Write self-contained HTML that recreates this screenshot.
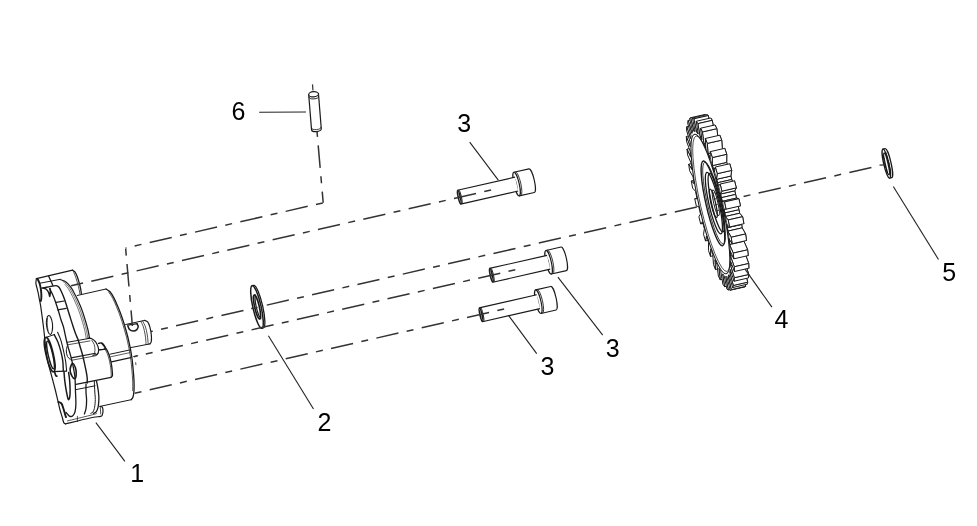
<!DOCTYPE html><html><head><meta charset="utf-8"><style>html,body{margin:0;padding:0;background:#fff}svg{display:block}text{-webkit-font-smoothing:antialiased}svg text{will-change:transform}</style></head><body><svg width="977" height="526" viewBox="0 0 977 526"><rect width="977" height="526" fill="#fff"/><path d="M151.00 331.52L700.00 206.35" stroke="#333" stroke-width="1.5" fill="none" stroke-dasharray="22.6 8.45 7.0 8.45" stroke-dashoffset="20.76"/><path d="M738.00 197.69L873.00 167.14" stroke="#333" stroke-width="1.5" fill="none" stroke-dasharray="22.6 8.45 7.0 8.45" stroke-dashoffset="25.32"/><g><path d="M77.20 295.50L106.00 289.00" stroke="#1a1a1a" stroke-width="1.0" fill="none" stroke-linecap="round" stroke-linejoin="round"/><path d="M106.00 289.00C106.67 289.47 108.67 290.28 110.00 291.80C111.33 293.32 112.73 295.73 114.00 298.10C115.27 300.47 116.50 303.43 117.60 306.00C118.70 308.57 119.67 311.00 120.60 313.50C121.53 316.00 122.37 318.42 123.20 321.00C124.03 323.58 124.83 326.33 125.60 329.00C126.37 331.67 127.13 334.33 127.80 337.00C128.47 339.67 129.07 342.50 129.60 345.00C130.13 347.50 130.57 349.50 131.00 352.00C131.43 354.50 131.83 357.00 132.20 360.00C132.57 363.00 132.90 366.50 133.20 370.00C133.50 373.50 133.87 377.58 134.00 381.00C134.13 384.42 134.17 387.83 134.00 390.50C133.83 393.17 133.47 395.47 133.00 397.00C132.53 398.53 131.50 399.25 131.20 399.70" stroke="#1a1a1a" stroke-width="1.3" fill="none" stroke-linecap="round" stroke-linejoin="round"/><path d="M108.70 292.00C109.37 293.05 111.43 295.93 112.70 298.30C113.97 300.67 115.20 303.63 116.30 306.20C117.40 308.77 118.37 311.20 119.30 313.70C120.23 316.20 121.07 318.62 121.90 321.20C122.73 323.78 123.53 326.53 124.30 329.20C125.07 331.87 125.83 334.53 126.50 337.20C127.17 339.87 127.77 342.70 128.30 345.20C128.83 347.70 129.27 349.70 129.70 352.20C130.13 354.70 130.53 357.20 130.90 360.20C131.27 363.20 131.60 366.70 131.90 370.20C132.20 373.70 132.57 377.78 132.70 381.20C132.83 384.62 132.70 389.12 132.70 390.70" stroke="#1a1a1a" stroke-width="0.75" fill="none" stroke-linecap="round" stroke-linejoin="round"/><path d="M131.20 399.70L100.00 406.40" stroke="#1a1a1a" stroke-width="1.0" fill="none" stroke-linecap="round" stroke-linejoin="round"/><path d="M110.00 354.20L129.60 350.00" stroke="#1a1a1a" stroke-width="1.0" fill="none" stroke-linecap="round" stroke-linejoin="round"/><path d="M110.60 356.80L130.00 352.60" stroke="#1a1a1a" stroke-width="0.7" fill="none" stroke-linecap="round" stroke-linejoin="round"/><path d="M111.40 361.80L130.60 357.60" stroke="#1a1a1a" stroke-width="1.3" fill="none" stroke-linecap="round" stroke-linejoin="round"/><path d="M133.30 356.60L137.80 355.70" stroke="#1a1a1a" stroke-width="0.75" fill="none" stroke-linecap="round" stroke-linejoin="round"/><path d="M135.70 362.60L135.90 364.80" stroke="#1a1a1a" stroke-width="0.75" fill="none" stroke-linecap="round" stroke-linejoin="round"/><path d="M125.60 324.50L144.60 320.40" stroke="#1a1a1a" stroke-width="1.0" fill="none" stroke-linecap="round" stroke-linejoin="round"/><path d="M144.60 320.40C145.12 320.65 146.82 320.77 147.70 321.90C148.58 323.03 149.30 325.05 149.90 327.20C150.50 329.35 151.07 332.42 151.30 334.80C151.53 337.18 151.53 339.98 151.30 341.50C151.07 343.02 150.13 343.50 149.90 343.90" stroke="#1a1a1a" stroke-width="1.2" fill="none" stroke-linecap="round" stroke-linejoin="round"/><path d="M140.80 321.40C141.23 322.33 142.70 324.90 143.40 327.00C144.10 329.10 144.60 331.83 145.00 334.00C145.40 336.17 145.63 338.23 145.80 340.00C145.97 341.77 145.97 343.83 146.00 344.60" stroke="#1a1a1a" stroke-width="0.75" fill="none" stroke-linecap="round" stroke-linejoin="round"/><path d="M142.60 321.00C143.08 322.00 144.75 324.83 145.50 327.00C146.25 329.17 146.70 331.83 147.10 334.00C147.50 336.17 147.72 338.28 147.90 340.00C148.08 341.72 148.15 343.58 148.20 344.30" stroke="#1a1a1a" stroke-width="0.75" fill="none" stroke-linecap="round" stroke-linejoin="round"/><path d="M149.90 343.90L130.20 347.70" stroke="#1a1a1a" stroke-width="1.0" fill="none" stroke-linecap="round" stroke-linejoin="round"/><path d="M127.90 326.00C128.17 326.58 128.62 328.67 129.50 329.50C130.38 330.33 131.98 330.98 133.20 331.00C134.42 331.02 135.97 330.40 136.80 329.60C137.63 328.80 138.17 327.13 138.20 326.20C138.23 325.27 137.20 324.37 137.00 324.00" stroke="#1a1a1a" stroke-width="1.5" fill="none" stroke-linecap="round" stroke-linejoin="round"/><path d="M127.60 325.20L137.40 323.60" stroke="#1a1a1a" stroke-width="1.2" fill="none" stroke-linecap="round" stroke-linejoin="round"/><path d="M36.40 278.60C36.32 279.37 35.80 281.62 35.90 283.20C36.00 284.78 36.60 286.38 37.00 288.10C37.40 289.82 37.92 291.68 38.30 293.50C38.68 295.32 38.92 296.98 39.30 299.00C39.68 301.02 40.12 302.60 40.60 305.60C41.08 308.60 41.70 313.27 42.20 317.00C42.70 320.73 43.18 324.50 43.60 328.00C44.02 331.50 44.33 334.50 44.70 338.00C45.07 341.50 45.32 345.27 45.80 349.00C46.28 352.73 46.90 356.90 47.60 360.40C48.30 363.90 49.15 366.73 50.00 370.00C50.85 373.27 51.82 376.67 52.70 380.00C53.58 383.33 54.48 386.73 55.30 390.00C56.12 393.27 56.83 396.35 57.60 399.60C58.37 402.85 59.13 406.58 59.90 409.50C60.67 412.42 61.57 414.95 62.20 417.10C62.83 419.25 63.17 421.27 63.70 422.40C64.23 423.53 65.12 423.65 65.40 423.90" stroke="#1a1a1a" stroke-width="1.2" fill="none" stroke-linecap="round" stroke-linejoin="round"/><path d="M65.40 423.90C69.50 422.92 84.12 419.27 90.00 418.00C95.88 416.73 98.65 416.83 100.70 416.30C102.75 415.77 101.92 415.68 102.30 414.80C102.68 413.92 103.00 412.27 103.00 411.00C103.00 409.73 102.80 407.97 102.30 407.20C101.80 406.43 100.38 406.53 100.00 406.40" stroke="#1a1a1a" stroke-width="1.2" fill="none" stroke-linecap="round" stroke-linejoin="round"/><path d="M67.50 420.90C71.25 419.98 85.17 416.62 90.00 415.40C94.83 414.18 95.42 413.90 96.50 413.60" stroke="#1a1a1a" stroke-width="0.75" fill="none" stroke-linecap="round" stroke-linejoin="round"/><path d="M100.30 406.80L100.70 414.00" stroke="#1a1a1a" stroke-width="0.75" fill="none" stroke-linecap="round" stroke-linejoin="round"/><path d="M36.40 278.60L72.60 270.20" stroke="#1a1a1a" stroke-width="1.2" fill="none" stroke-linecap="round" stroke-linejoin="round"/><path d="M72.60 270.20C72.98 270.48 74.13 270.87 74.90 271.90C75.67 272.93 76.50 274.63 77.20 276.40C77.90 278.17 78.53 280.47 79.10 282.50C79.67 284.53 80.22 286.70 80.60 288.60C80.98 290.50 81.27 293.02 81.40 293.90" stroke="#1a1a1a" stroke-width="1.3" fill="none" stroke-linecap="round" stroke-linejoin="round"/><path d="M73.40 271.60C73.78 272.53 75.00 275.25 75.70 277.20C76.40 279.15 77.03 281.27 77.60 283.30C78.17 285.33 78.72 287.63 79.10 289.40C79.48 291.17 79.77 293.15 79.90 293.90" stroke="#1a1a1a" stroke-width="0.75" fill="none" stroke-linecap="round" stroke-linejoin="round"/><path d="M40.10 283.20L60.20 279.30" stroke="#1a1a1a" stroke-width="1.0" fill="none" stroke-linecap="round" stroke-linejoin="round"/><path d="M48.60 275.90L52.90 285.60" stroke="#1a1a1a" stroke-width="1.3" fill="none" stroke-linecap="round" stroke-linejoin="round"/><path d="M37.60 279.00C37.92 279.70 38.98 281.68 39.50 283.20C40.02 284.72 40.40 286.38 40.70 288.10C41.00 289.82 41.20 291.77 41.30 293.50C41.40 295.23 41.38 297.25 41.30 298.50C41.22 299.75 40.88 300.58 40.80 301.00" stroke="#1a1a1a" stroke-width="1.9" fill="none" stroke-linecap="round" stroke-linejoin="round"/><path d="M43.10 288.10C43.58 288.25 45.08 288.27 46.00 289.00C46.92 289.73 47.97 291.25 48.60 292.50C49.23 293.75 49.52 296.58 49.80 296.50C50.08 296.42 50.25 293.30 50.30 292.00C50.35 290.70 50.13 289.25 50.10 288.70" stroke="#1a1a1a" stroke-width="1.5" fill="none" stroke-linecap="round" stroke-linejoin="round"/><path d="M58.40 401.90C58.90 402.15 60.52 402.13 61.40 403.40C62.28 404.67 63.07 407.60 63.70 409.50C64.33 411.40 64.82 413.53 65.20 414.80C65.58 416.07 65.87 416.72 66.00 417.10" stroke="#1a1a1a" stroke-width="1.9" fill="none" stroke-linecap="round" stroke-linejoin="round"/><path d="M41.90 288.10C43.25 287.85 47.65 287.02 50.00 286.60C52.35 286.18 54.50 285.50 56.00 285.60C57.50 285.70 58.03 286.05 59.00 287.20C59.97 288.35 60.87 290.45 61.80 292.50C62.73 294.55 63.73 297.08 64.60 299.50C65.47 301.92 66.13 304.25 67.00 307.00C67.87 309.75 68.83 312.92 69.80 316.00C70.77 319.08 71.83 322.53 72.80 325.50C73.77 328.47 74.70 331.38 75.60 333.80C76.50 336.22 77.42 337.77 78.20 340.00C78.98 342.23 79.58 344.73 80.30 347.20C81.02 349.67 81.78 352.02 82.50 354.80C83.22 357.58 83.97 361.03 84.60 363.90C85.23 366.77 85.87 369.65 86.30 372.00C86.73 374.35 87.05 376.17 87.20 378.00C87.35 379.83 87.20 382.17 87.20 383.00" stroke="#1a1a1a" stroke-width="1.4" fill="none" stroke-linecap="round" stroke-linejoin="round"/><path d="M86.00 384.00C86.00 385.43 85.90 389.93 86.00 392.60C86.10 395.27 86.60 397.32 86.60 400.00C86.60 402.68 86.37 406.37 86.00 408.70C85.63 411.03 84.67 413.12 84.40 414.00" stroke="#1a1a1a" stroke-width="1.3" fill="none" stroke-linecap="round" stroke-linejoin="round"/><path d="M59.90 279.50C60.65 279.75 63.00 280.23 64.40 281.00C65.80 281.77 67.15 282.95 68.30 284.10C69.45 285.25 70.30 286.38 71.30 287.90C72.30 289.42 73.28 291.30 74.30 293.20C75.32 295.10 76.38 297.15 77.40 299.30C78.42 301.45 79.47 303.82 80.40 306.10C81.33 308.38 82.10 310.35 83.00 313.00C83.90 315.65 84.97 319.17 85.80 322.00C86.63 324.83 87.38 327.33 88.00 330.00C88.62 332.67 89.25 336.67 89.50 338.00" stroke="#1a1a1a" stroke-width="1.2" fill="none" stroke-linecap="round" stroke-linejoin="round"/><path d="M62.80 281.30C63.45 281.82 65.55 283.25 66.70 284.40C67.85 285.55 68.70 286.68 69.70 288.20C70.70 289.72 71.68 291.60 72.70 293.50C73.72 295.40 74.78 297.45 75.80 299.60C76.82 301.75 77.87 304.12 78.80 306.40C79.73 308.68 80.50 310.65 81.40 313.30C82.30 315.95 83.37 319.47 84.20 322.30C85.03 325.13 85.78 327.63 86.40 330.30C87.02 332.97 87.65 336.97 87.90 338.30" stroke="#1a1a1a" stroke-width="0.6" fill="none" stroke-linecap="round" stroke-linejoin="round"/><path d="M65.10 284.60C65.60 285.23 67.10 286.88 68.10 288.40C69.10 289.92 70.08 291.80 71.10 293.70C72.12 295.60 73.18 297.65 74.20 299.80C75.22 301.95 76.27 304.32 77.20 306.60C78.13 308.88 78.90 310.85 79.80 313.50C80.70 316.15 81.77 319.67 82.60 322.50C83.43 325.33 84.18 327.83 84.80 330.50C85.42 333.17 86.05 337.17 86.30 338.50" stroke="#1a1a1a" stroke-width="0.6" fill="none" stroke-linecap="round" stroke-linejoin="round"/><path d="M94.30 381.20C94.38 383.00 94.63 388.93 94.80 392.00C94.97 395.07 95.33 397.07 95.30 399.60C95.27 402.13 94.97 405.17 94.60 407.20C94.23 409.23 93.73 410.78 93.10 411.80C92.47 412.82 91.18 413.05 90.80 413.30" stroke="#1a1a1a" stroke-width="1.0" fill="none" stroke-linecap="round" stroke-linejoin="round"/><path d="M96.50 381.20C96.75 382.47 97.62 386.33 98.00 388.80C98.38 391.27 98.67 393.97 98.80 396.00C98.93 398.03 98.92 399.13 98.80 401.00C98.68 402.87 98.53 405.40 98.10 407.20C97.67 409.00 96.97 410.77 96.20 411.80C95.43 412.83 93.95 413.13 93.50 413.40" stroke="#1a1a1a" stroke-width="1.3" fill="none" stroke-linecap="round" stroke-linejoin="round"/><path d="M49.60 288.50C50.13 289.58 51.90 293.00 52.80 295.00C53.70 297.00 54.30 298.58 55.00 300.50C55.70 302.42 56.35 304.50 57.00 306.50C57.65 308.50 58.25 310.33 58.90 312.50C59.55 314.67 60.18 317.25 60.90 319.50C61.62 321.75 62.62 324.08 63.20 326.00C63.78 327.92 63.93 328.92 64.40 331.00C64.87 333.08 65.38 335.80 66.00 338.50C66.62 341.20 67.37 344.48 68.10 347.20C68.83 349.92 69.65 352.02 70.40 354.80C71.15 357.58 71.97 361.03 72.60 363.90C73.23 366.77 73.80 369.65 74.20 372.00C74.60 374.35 74.82 375.83 75.00 378.00C75.18 380.17 75.22 382.67 75.30 385.00C75.38 387.33 75.40 388.93 75.50 392.00C75.60 395.07 75.97 400.15 75.90 403.40C75.83 406.65 75.62 409.43 75.10 411.50C74.58 413.57 73.68 415.00 72.80 415.80C71.92 416.60 70.68 416.58 69.80 416.30C68.92 416.02 68.13 414.73 67.50 414.10C66.87 413.47 66.25 412.77 66.00 412.50" stroke="#1a1a1a" stroke-width="1.3" fill="none" stroke-linecap="round" stroke-linejoin="round"/><path d="M56.20 302.30L64.20 301.00" stroke="#1a1a1a" stroke-width="1.2" fill="none" stroke-linecap="round" stroke-linejoin="round"/><path d="M57.80 309.90L66.20 308.40" stroke="#1a1a1a" stroke-width="1.2" fill="none" stroke-linecap="round" stroke-linejoin="round"/><path d="M77.40 416.30L77.40 421.70" stroke="#1a1a1a" stroke-width="0.75" fill="none" stroke-linecap="round" stroke-linejoin="round"/><path d="M48.60 315.50C49.27 315.33 50.15 316.08 50.80 317.50C51.45 318.92 52.27 321.75 52.50 324.00C52.73 326.25 52.53 329.25 52.20 331.00C51.87 332.75 51.17 334.33 50.50 334.50C49.83 334.67 48.87 333.58 48.20 332.00C47.53 330.42 46.73 327.25 46.50 325.00C46.27 322.75 46.45 320.08 46.80 318.50C47.15 316.92 47.93 315.67 48.60 315.50Z" stroke="#1a1a1a" stroke-width="1.1" fill="none" stroke-linecap="round" stroke-linejoin="round"/><path d="M47.60 318.00C47.53 319.00 47.13 321.92 47.20 324.00C47.27 326.08 47.87 329.42 48.00 330.50" stroke="#1a1a1a" stroke-width="0.75" fill="none" stroke-linecap="round" stroke-linejoin="round"/><ellipse transform="translate(49.7 354.6) rotate(-12.84)" rx="3.6" ry="17.6" fill="none" stroke="#1a1a1a" stroke-width="1.6"/><ellipse transform="translate(50.5 355.0) rotate(-12.84)" rx="2.3" ry="14.2" fill="none" stroke="#1a1a1a" stroke-width="1.4"/><path d="M45.70 337.50L54.20 334.60" stroke="#1a1a1a" stroke-width="1.0" fill="none" stroke-linecap="round" stroke-linejoin="round"/><path d="M54.20 334.60C54.83 335.87 56.88 339.35 58.00 342.20C59.12 345.05 60.10 348.53 60.90 351.70C61.70 354.87 62.40 358.03 62.80 361.20C63.20 364.37 63.22 369.12 63.30 370.70" stroke="#1a1a1a" stroke-width="1.4" fill="none" stroke-linecap="round" stroke-linejoin="round"/><path d="M57.60 332.30C58.15 333.63 59.88 337.07 60.90 340.30C61.92 343.53 62.92 348.22 63.70 351.70C64.48 355.18 65.12 358.03 65.60 361.20C66.08 364.37 66.43 369.12 66.60 370.70" stroke="#1a1a1a" stroke-width="1.1" fill="none" stroke-linecap="round" stroke-linejoin="round"/><path d="M52.30 371.70L66.60 371.10" stroke="#1a1a1a" stroke-width="1.3" fill="none" stroke-linecap="round" stroke-linejoin="round"/><path d="M54.60 372.00C54.80 372.58 55.40 374.80 55.80 375.50C56.20 376.20 56.80 376.08 57.00 376.20" stroke="#1a1a1a" stroke-width="1.6" fill="none" stroke-linecap="round" stroke-linejoin="round"/><path d="M64.00 371.90C64.13 373.42 64.42 377.83 64.80 381.00C65.18 384.17 65.72 387.83 66.30 390.90C66.88 393.97 67.72 398.45 68.30 399.40C68.88 400.35 69.50 398.17 69.80 396.60C70.10 395.03 70.13 392.77 70.10 390.00C70.07 387.23 69.85 382.92 69.60 380.00C69.35 377.08 68.77 373.75 68.60 372.50" stroke="#1a1a1a" stroke-width="1.5" fill="none" stroke-linecap="round" stroke-linejoin="round"/><path d="M67.30 342.30L90.00 338.30" stroke="#1a1a1a" stroke-width="1.0" fill="none" stroke-linecap="round" stroke-linejoin="round"/><path d="M67.80 344.80L90.00 340.90" stroke="#1a1a1a" stroke-width="0.75" fill="none" stroke-linecap="round" stroke-linejoin="round"/><path d="M88.00 338.00C88.63 338.13 90.53 338.17 91.80 338.80C93.07 339.43 94.58 340.53 95.60 341.80C96.62 343.07 97.40 345.00 97.90 346.40C98.40 347.80 98.60 349.05 98.60 350.20C98.60 351.35 98.40 352.53 97.90 353.30C97.40 354.07 96.42 354.47 95.60 354.80C94.78 355.13 93.43 355.22 93.00 355.30" stroke="#1a1a1a" stroke-width="1.2" fill="none" stroke-linecap="round" stroke-linejoin="round"/><path d="M91.80 340.30C92.20 341.00 93.67 342.88 94.20 344.50C94.73 346.12 95.00 348.38 95.00 350.00C95.00 351.62 94.33 353.50 94.20 354.20" stroke="#1a1a1a" stroke-width="0.75" fill="none" stroke-linecap="round" stroke-linejoin="round"/><path d="M71.10 357.90L95.50 353.30" stroke="#1a1a1a" stroke-width="1.1" fill="none" stroke-linecap="round" stroke-linejoin="round"/><path d="M71.50 360.30L96.50 355.60L98.00 353.50" stroke="#1a1a1a" stroke-width="0.75" fill="none" stroke-linecap="round" stroke-linejoin="round"/><path d="M67.20 346.20C67.05 347.00 66.25 349.28 66.30 351.00C66.35 352.72 66.82 355.07 67.50 356.50C68.18 357.93 69.92 359.08 70.40 359.60" stroke="#1a1a1a" stroke-width="1.0" fill="none" stroke-linecap="round" stroke-linejoin="round"/><path d="M98.60 343.40C99.12 343.33 100.75 342.63 101.70 343.00C102.65 343.37 103.67 344.65 104.30 345.60C104.93 346.55 105.68 348.07 105.50 348.70C105.32 349.33 104.22 349.22 103.20 349.40C102.18 349.58 100.03 349.73 99.40 349.80" stroke="#1a1a1a" stroke-width="1.4" fill="none" stroke-linecap="round" stroke-linejoin="round"/><path d="M72.40 363.50C71.50 363.75 70.22 367.57 70.10 369.60C69.98 371.63 70.93 374.18 71.70 375.70C72.47 377.22 73.95 378.83 74.70 378.70C75.45 378.57 76.07 376.67 76.20 374.90C76.33 373.13 76.13 370.00 75.50 368.10C74.87 366.20 73.30 363.25 72.40 363.50Z" stroke="#1a1a1a" stroke-width="1.6" fill="none" stroke-linecap="round" stroke-linejoin="round"/><path d="M101.70 343.40C102.33 344.15 104.48 346.52 105.50 347.90C106.52 349.28 107.05 350.05 107.80 351.70C108.55 353.35 109.37 355.52 110.00 357.80C110.63 360.08 111.22 363.03 111.60 365.40C111.98 367.77 112.17 370.30 112.30 372.00C112.43 373.70 112.62 374.70 112.40 375.60C112.18 376.50 111.23 377.10 111.00 377.40" stroke="#1a1a1a" stroke-width="1.3" fill="none" stroke-linecap="round" stroke-linejoin="round"/><path d="M104.30 348.20C104.68 348.83 105.85 350.35 106.60 352.00C107.35 353.65 108.17 355.82 108.80 358.10C109.43 360.38 110.02 363.33 110.40 365.70C110.78 368.07 110.97 370.60 111.10 372.30C111.23 374.00 111.18 375.30 111.20 375.90" stroke="#1a1a1a" stroke-width="0.75" fill="none" stroke-linecap="round" stroke-linejoin="round"/><path d="M111.00 377.40L76.00 384.40" stroke="#1a1a1a" stroke-width="1.1" fill="none" stroke-linecap="round" stroke-linejoin="round"/><path d="M76.00 389.60L95.00 385.80" stroke="#1a1a1a" stroke-width="1.0" fill="none" stroke-linecap="round" stroke-linejoin="round"/></g><g transform="translate(257.00 307.00) rotate(-12.84)" fill="#fff" stroke="#1a1a1a" stroke-width="1.3"><path d="M0 -21.8L1.6 -21.8A4.14 21.8 0 0 1 1.6 21.8L0 21.8Z"/><ellipse cx="0" cy="0" rx="4.14" ry="21.8" stroke-width="1.5"/><ellipse cx="0" cy="0" rx="2.36" ry="12.4" stroke-width="1.6"/><path d="M1.6 -12.2A2.36 12.2 0 0 0 1.6 12.2" fill="none" stroke-width="1.2"/></g><path d="M251.3 308.7L257.6 307.3" stroke="#333" stroke-width="1.2"/><g transform="translate(459.05 197.20) rotate(-12.84)" fill="#fff" stroke="#1a1a1a" stroke-width="1.15" stroke-linejoin="round"><path d="M59.0 -12.1L74.5 -12.1A2.66 12.1 0 0 1 74.5 12.1L59.0 12.1Z"/><ellipse cx="59.0" cy="0" rx="2.66" ry="12.1"/><path d="M60.6 -12.1A2.66 12.1 0 0 1 60.6 12.1" fill="none" stroke-width="0.8"/><path d="M57.4 -7.5A1.56 7.5 0 0 1 57.4 7.5" fill="none" stroke-width="0.8"/><path d="M0 -7.1L59.0 -7.1L59.0 7.1L0 7.1Z" stroke="none"/><path d="M0 -7.1L59.0 -7.1M0 7.1L59.0 7.1" fill="none"/><ellipse cx="0.2" cy="0" rx="1.0" ry="6.8999999999999995" stroke-width="1.6"/><path d="M1.3 -7.1A1.1 7.1 0 0 1 1.3 7.1" fill="none" stroke-width="0.9"/></g><g transform="translate(491.10 275.35) rotate(-12.84)" fill="#fff" stroke="#1a1a1a" stroke-width="1.15" stroke-linejoin="round"><path d="M59.0 -12.1L74.5 -12.1A2.66 12.1 0 0 1 74.5 12.1L59.0 12.1Z"/><ellipse cx="59.0" cy="0" rx="2.66" ry="12.1"/><path d="M60.6 -12.1A2.66 12.1 0 0 1 60.6 12.1" fill="none" stroke-width="0.8"/><path d="M57.4 -7.5A1.56 7.5 0 0 1 57.4 7.5" fill="none" stroke-width="0.8"/><path d="M0 -7.1L59.0 -7.1L59.0 7.1L0 7.1Z" stroke="none"/><path d="M0 -7.1L59.0 -7.1M0 7.1L59.0 7.1" fill="none"/><ellipse cx="0.2" cy="0" rx="1.0" ry="6.8999999999999995" stroke-width="1.6"/><path d="M1.3 -7.1A1.1 7.1 0 0 1 1.3 7.1" fill="none" stroke-width="0.9"/></g><g transform="translate(480.80 314.80) rotate(-12.84)" fill="#fff" stroke="#1a1a1a" stroke-width="1.15" stroke-linejoin="round"><path d="M59.0 -12.1L74.5 -12.1A2.66 12.1 0 0 1 74.5 12.1L59.0 12.1Z"/><ellipse cx="59.0" cy="0" rx="2.66" ry="12.1"/><path d="M60.6 -12.1A2.66 12.1 0 0 1 60.6 12.1" fill="none" stroke-width="0.8"/><path d="M57.4 -7.5A1.56 7.5 0 0 1 57.4 7.5" fill="none" stroke-width="0.8"/><path d="M0 -7.1L59.0 -7.1L59.0 7.1L0 7.1Z" stroke="none"/><path d="M0 -7.1L59.0 -7.1M0 7.1L59.0 7.1" fill="none"/><ellipse cx="0.2" cy="0" rx="1.0" ry="6.8999999999999995" stroke-width="1.6"/><path d="M1.3 -7.1A1.1 7.1 0 0 1 1.3 7.1" fill="none" stroke-width="0.9"/></g><g fill="#fff" stroke="#1a1a1a" stroke-width="1.0" stroke-linejoin="round"><path d="M740.73 273.38L741.34 273.36L744.61 286.97L745.69 286.34L742.51 272.67L742.98 272.07L743.41 271.29L747.02 284.28L747.71 282.17L744.17 268.98L744.44 267.64L744.67 266.13L748.45 277.95L748.74 274.44L744.98 262.30L745.05 260.28L745.06 258.12L748.86 268.23L748.72 263.49L744.91 252.93L744.77 250.32L744.57 247.59L748.21 255.57L747.66 249.80L743.97 241.28L743.61 238.20L743.21 235.02L746.54 240.51L745.60 233.96L742.19 227.85L741.64 224.43L741.05 220.95L743.92 223.71L742.63 216.66L739.64 213.24L738.93 209.63L738.19 205.99L740.47 205.90L738.89 198.67L736.46 198.08L735.61 194.43L734.74 190.80L736.33 187.87L734.53 180.77L732.76 183.04L731.81 179.51L730.85 176.05L731.69 170.40L729.74 163.74L728.72 168.76L727.71 165.52L726.70 162.37L726.75 154.25L724.74 148.32L724.50 155.89L723.49 153.07L722.47 150.37L721.73 140.13L719.75 135.20L720.30 144.97L719.32 142.70L718.35 140.57L716.84 128.66L714.98 124.94L716.30 136.49L715.39 134.86L714.50 133.40L712.31 120.35L710.63 117.99L712.67 130.82L711.88 129.90L711.11 129.17L708.31 115.54L706.91 114.65L709.58 128.20L708.93 128.04L708.32 128.06L705.05 114.45L703.97 115.08L707.15 128.75L706.68 129.35L706.25 130.13L702.64 117.14L701.95 119.25L705.49 132.44L705.22 133.78L704.99 135.29L701.21 123.48L700.92 126.98L704.68 139.12L704.61 141.14L704.60 143.30L700.80 133.19L700.94 137.93L704.75 148.49L704.89 151.10L705.09 153.83L701.45 145.85L702.00 151.62L705.69 160.14L706.05 163.22L706.45 166.40L703.12 160.91L704.06 167.46L707.47 173.57L708.02 176.99L708.61 180.47L705.74 177.71L707.03 184.76L710.02 188.18L710.73 191.79L711.47 195.43L709.19 195.52L710.77 202.75L713.20 203.34L714.05 206.99L714.92 210.62L713.33 213.55L715.13 220.65L716.90 218.39L717.85 221.91L718.81 225.37L717.97 231.02L719.92 237.68L720.94 232.66L721.95 235.90L722.96 239.05L722.90 247.17L724.92 253.10L725.16 245.53L726.17 248.35L727.19 251.05L727.93 261.29L729.91 266.22L729.36 256.45L730.34 258.72L731.31 260.85L732.81 272.76L734.68 276.48L733.36 264.93L734.27 266.56L735.15 268.02L737.35 281.07L739.03 283.43L736.98 270.60L737.78 271.52L738.55 272.25L741.34 285.88L742.75 286.77L740.08 273.22Z"/><path d="M697.04 198.72L694.76 198.81L709.19 195.52L711.47 195.43Z"/><path d="M700.70 223.94L702.47 221.68L716.90 218.39L715.13 220.65Z"/><path d="M694.18 183.76L691.31 181.00L705.74 177.71L708.61 180.47Z"/><path d="M705.49 240.97L706.51 235.95L720.94 232.66L719.92 237.68Z"/><path d="M692.02 169.69L688.69 164.20L703.12 160.91L706.45 166.40Z"/><path d="M710.49 256.39L710.73 248.82L725.16 245.53L724.92 253.10Z"/><path d="M690.66 157.12L687.02 149.14L701.45 145.85L705.09 153.83Z"/><path d="M715.48 269.51L714.93 259.74L729.36 256.45L729.91 266.22Z"/><path d="M690.17 146.59L686.37 136.48L700.80 133.19L704.60 143.30Z"/><path d="M720.25 279.77L718.93 268.22L733.36 264.93L734.68 276.48Z"/><path d="M690.56 138.58L686.78 126.76L701.21 123.48L704.99 135.29Z"/><path d="M724.60 286.72L722.55 273.89L736.98 270.60L739.03 283.43Z"/><path d="M691.82 133.42L688.21 120.43L702.64 117.14L706.25 130.13Z"/><path d="M728.32 290.06L725.65 276.51L740.08 273.22L742.75 286.77Z"/><path d="M693.89 131.35L690.62 117.74L705.05 114.45L708.32 128.06Z"/><path d="M694.50 131.33L693.89 131.35L708.32 128.06L708.93 128.04Z"/><path d="M730.18 290.26L731.26 289.63L745.69 286.34L744.61 286.97Z"/><path d="M695.15 131.49L694.50 131.33L708.93 128.04L709.58 128.20Z"/><path d="M731.26 289.63L728.08 275.96L742.51 272.67L745.69 286.34Z"/><path d="M728.08 275.96L728.55 275.36L742.98 272.07L742.51 272.67Z"/><path d="M728.55 275.36L728.98 274.58L743.41 271.29L742.98 272.07Z"/><path d="M693.88 118.83L692.48 117.94L706.91 114.65L708.31 115.54Z"/><path d="M696.68 132.46L693.88 118.83L708.31 115.54L711.11 129.17Z"/><path d="M697.45 133.19L696.68 132.46L711.11 129.17L711.88 129.90Z"/><path d="M698.25 134.11L697.45 133.19L711.88 129.90L712.67 130.82Z"/><path d="M732.59 287.57L733.28 285.46L747.71 282.17L747.02 284.28Z"/><path d="M733.28 285.46L729.74 272.27L744.17 268.98L747.71 282.17Z"/><path d="M729.74 272.27L730.01 270.93L744.44 267.64L744.17 268.98Z"/><path d="M730.01 270.93L730.24 269.42L744.67 266.13L744.44 267.64Z"/><path d="M697.88 123.64L696.20 121.28L710.63 117.99L712.31 120.35Z"/><path d="M700.96 138.15L700.08 136.69L714.50 133.40L715.39 134.86Z"/><path d="M700.08 136.69L697.88 123.64L712.31 120.35L714.50 133.40Z"/><path d="M701.87 139.78L700.96 138.15L715.39 134.86L716.30 136.49Z"/><path d="M730.55 265.59L730.62 263.57L745.05 260.28L744.98 262.30Z"/><path d="M734.02 281.24L734.31 277.73L748.74 274.44L748.45 277.95Z"/><path d="M734.31 277.73L730.55 265.59L744.98 262.30L748.74 274.44Z"/><path d="M730.62 263.57L730.63 261.41L745.06 258.12L745.05 260.28Z"/><path d="M704.89 145.99L703.92 143.86L718.35 140.57L719.32 142.70Z"/><path d="M703.92 143.86L702.41 131.95L716.84 128.66L718.35 140.57Z"/><path d="M702.41 131.95L700.55 128.23L714.98 124.94L716.84 128.66Z"/><path d="M705.87 148.26L704.89 145.99L719.32 142.70L720.30 144.97Z"/><path d="M730.48 256.22L730.34 253.61L744.77 250.32L744.91 252.93Z"/><path d="M730.34 253.61L730.14 250.88L744.57 247.59L744.77 250.32Z"/><path d="M734.29 266.78L730.48 256.22L744.91 252.93L748.72 263.49Z"/><path d="M734.43 271.52L734.29 266.78L748.72 263.49L748.86 268.23Z"/><path d="M709.06 156.36L708.04 153.66L722.47 150.37L723.49 153.07Z"/><path d="M710.07 159.18L709.06 156.36L723.49 153.07L724.50 155.89Z"/><path d="M708.04 153.66L707.30 143.42L721.73 140.13L722.47 150.37Z"/><path d="M729.54 244.57L729.18 241.49L743.61 238.20L743.97 241.28Z"/><path d="M707.30 143.42L705.32 138.49L719.75 135.20L721.73 140.13Z"/><path d="M729.18 241.49L728.78 238.31L743.21 235.02L743.61 238.20Z"/><path d="M713.28 168.81L712.27 165.66L726.70 162.37L727.71 165.52Z"/><path d="M733.23 253.09L729.54 244.57L743.97 241.28L747.66 249.80Z"/><path d="M714.29 172.05L713.28 168.81L727.71 165.52L728.72 168.76Z"/><path d="M733.78 258.86L733.23 253.09L747.66 249.80L748.21 255.57Z"/><path d="M727.76 231.14L727.21 227.72L741.64 224.43L742.19 227.85Z"/><path d="M727.21 227.72L726.62 224.24L741.05 220.95L741.64 224.43Z"/><path d="M712.27 165.66L712.33 157.54L726.75 154.25L726.70 162.37Z"/><path d="M717.38 182.80L716.42 179.34L730.85 176.05L731.81 179.51Z"/><path d="M718.33 186.32L717.38 182.80L731.81 179.51L732.76 183.04Z"/><path d="M725.21 216.53L724.50 212.92L738.93 209.63L739.64 213.24Z"/><path d="M724.50 212.92L723.76 209.28L738.19 205.99L738.93 209.63Z"/><path d="M731.17 237.25L727.76 231.14L742.19 227.85L745.60 233.96Z"/><path d="M721.18 197.72L720.31 194.09L734.74 190.80L735.61 194.43Z"/><path d="M712.33 157.54L710.31 151.61L724.74 148.32L726.75 154.25Z"/><path d="M722.03 201.37L721.18 197.72L735.61 194.43L736.46 198.08Z"/><path d="M716.42 179.34L717.26 173.69L731.69 170.40L730.85 176.05Z"/><path d="M732.11 243.80L731.17 237.25L745.60 233.96L746.54 240.51Z"/><path d="M728.20 219.95L725.21 216.53L739.64 213.24L742.63 216.66Z"/><path d="M720.31 194.09L721.90 191.16L736.33 187.87L734.74 190.80Z"/><path d="M724.46 201.96L722.03 201.37L736.46 198.08L738.89 198.67Z"/><path d="M717.26 173.69L715.31 167.03L729.74 163.74L731.69 170.40Z"/><path d="M729.49 227.00L728.20 219.95L742.63 216.66L743.92 223.71Z"/><path d="M721.90 191.16L720.10 184.06L734.53 180.77L736.33 187.87Z"/><path d="M726.04 209.19L724.46 201.96L738.89 198.67L740.47 205.90Z"/><path d="M726.30 276.67L726.91 276.65L730.18 290.26L731.26 289.63L728.08 275.96L728.55 275.36L728.98 274.58L732.59 287.57L733.28 285.46L729.74 272.27L730.01 270.93L730.24 269.42L734.02 281.24L734.31 277.73L730.55 265.59L730.62 263.57L730.63 261.41L734.43 271.52L734.29 266.78L730.48 256.22L730.34 253.61L730.14 250.88L733.78 258.86L733.23 253.09L729.54 244.57L729.18 241.49L728.78 238.31L732.11 243.80L731.17 237.25L727.76 231.14L727.21 227.72L726.62 224.24L729.49 227.00L728.20 219.95L725.21 216.53L724.50 212.92L723.76 209.28L726.04 209.19L724.46 201.96L722.03 201.37L721.18 197.72L720.31 194.09L721.90 191.16L720.10 184.06L718.33 186.32L717.38 182.80L716.42 179.34L717.26 173.69L715.31 167.03L714.29 172.05L713.28 168.81L712.27 165.66L712.33 157.54L710.31 151.61L710.07 159.18L709.06 156.36L708.04 153.66L707.30 143.42L705.32 138.49L705.87 148.26L704.89 145.99L703.92 143.86L702.41 131.95L700.55 128.23L701.87 139.78L700.96 138.15L700.08 136.69L697.88 123.64L696.20 121.28L698.25 134.11L697.45 133.19L696.68 132.46L693.88 118.83L692.48 117.94L695.15 131.49L694.50 131.33L693.89 131.35L690.62 117.74L689.54 118.37L692.72 132.04L692.25 132.64L691.82 133.42L688.21 120.43L687.52 122.54L691.06 135.73L690.79 137.07L690.56 138.58L686.78 126.76L686.49 130.27L690.25 142.41L690.18 144.43L690.17 146.59L686.37 136.48L686.51 141.22L690.32 151.78L690.46 154.39L690.66 157.12L687.02 149.14L687.57 154.91L691.26 163.43L691.62 166.51L692.02 169.69L688.69 164.20L689.63 170.75L693.04 176.86L693.59 180.28L694.18 183.76L691.31 181.00L692.60 188.05L695.59 191.47L696.30 195.08L697.04 198.72L694.76 198.81L696.34 206.04L698.77 206.63L699.62 210.28L700.49 213.91L698.90 216.84L700.70 223.94L702.47 221.68L703.42 225.20L704.38 228.66L703.54 234.31L705.49 240.97L706.51 235.95L707.52 239.19L708.53 242.34L708.47 250.46L710.49 256.39L710.73 248.82L711.74 251.64L712.76 254.34L713.50 264.58L715.48 269.51L714.93 259.74L715.91 262.01L716.88 264.14L718.39 276.05L720.25 279.77L718.93 268.22L719.84 269.85L720.72 271.31L722.92 284.36L724.60 286.72L722.55 273.89L723.35 274.81L724.12 275.54L726.92 289.17L728.32 290.06L725.65 276.51Z"/></g><ellipse transform="translate(710.40 204.00) rotate(-12.84)" cx="0" cy="0" rx="11.44" ry="71.50" fill="none" stroke="#1a1a1a" stroke-width="1.1" /><ellipse transform="translate(711.57 203.73) rotate(-12.84)" cx="0" cy="0" rx="11.12" ry="69.50" fill="none" stroke="#1a1a1a" stroke-width="0.7" /><ellipse transform="translate(712.93 203.42) rotate(-12.84)" cx="0" cy="0" rx="6.96" ry="43.50" fill="none" stroke="#1a1a1a" stroke-width="1.4" /><ellipse transform="translate(714.10 203.16) rotate(-12.84)" cx="0" cy="0" rx="6.72" ry="42.00" fill="none" stroke="#1a1a1a" stroke-width="0.8" /><ellipse transform="translate(713.91 203.20) rotate(-12.84)" cx="0" cy="0" rx="5.04" ry="31.50" fill="none" stroke="#1a1a1a" stroke-width="1.3" /><ellipse transform="translate(716.25 202.67) rotate(-12.84)" cx="0" cy="0" rx="4.80" ry="30.00" fill="none" stroke="#1a1a1a" stroke-width="1.3" /><ellipse transform="translate(713.32 203.33) rotate(-12.84)" cx="0" cy="0" rx="2.32" ry="14.50" fill="none" stroke="#1a1a1a" stroke-width="1.2" /><ellipse transform="translate(715.76 202.78) rotate(-12.84)" cx="0" cy="0" rx="2.08" ry="13.00" fill="none" stroke="#1a1a1a" stroke-width="1.0" /><path d="M712.08 193.36L715.00 192.69" stroke="#1a1a1a" stroke-width="0.8"/><path d="M713.41 199.21L716.34 198.54" stroke="#1a1a1a" stroke-width="0.8"/><path d="M714.74 205.06L717.67 204.39" stroke="#1a1a1a" stroke-width="0.8"/><path d="M716.08 210.91L719.00 210.24" stroke="#1a1a1a" stroke-width="0.8"/><g transform="translate(886.30 163.60) rotate(-12.84)" fill="#fff" stroke="#1a1a1a" stroke-width="1.3"><path d="M0 -14.8L2.2 -14.8A2.6 14.8 0 0 1 2.2 14.8L0 14.8Z"/><ellipse cx="0" cy="0" rx="2.6" ry="14.8"/><ellipse cx="0.3" cy="0.3" rx="1.5" ry="11.2" fill="none" stroke-width="1.5"/><path d="M-1.6 -9L-1.2 -4M-1.8 -1L-1.6 4M-1.4 6L-1.0 10M1.8 -11L2.2 -6M2.4 -3L2.6 2M2.4 5L2.0 10" fill="none" stroke-width="1.1"/></g><path d="M879.5 165.2L884.7 164.8" stroke="#333" stroke-width="1.2"/><g transform="translate(313.6 94.3) rotate(-4.6)" fill="#fff" stroke="#1a1a1a" stroke-width="1.2"><path d="M-4.9 0L-4.9 35A4.9 2.4 0 0 0 4.9 35L4.9 0Z"/><ellipse cx="0" cy="0" rx="4.9" ry="2.6"/><path d="M-4.8 2.2A4.8 2.4 0 0 0 4.8 2.2" fill="none" stroke-width="0.9"/><path d="M-4.8 33.0A4.8 2.4 0 0 0 4.8 33.0" fill="none" stroke-width="0.8"/><path d="M-0.3 -10L-0.3 -4" stroke="#333"/></g><path d="M76.00 284.69L492.20 189.79" stroke="#333" stroke-width="1.5" fill="none" stroke-dasharray="22.6 8.45 7.0 8.45" stroke-dashoffset="30.81"/><path d="M71.10 285.81L77.50 284.35" stroke="#333" stroke-width="1.5"/><path d="M134.00 356.66L516.40 269.47" stroke="#333" stroke-width="1.5" fill="none" stroke-dasharray="22.6 8.45 7.0 8.45" stroke-dashoffset="18.95"/><path d="M134.00 393.38L505.40 308.70" stroke="#333" stroke-width="1.5" fill="none" stroke-dasharray="22.6 8.45 7.0 8.45" stroke-dashoffset="30.40"/><path d="M317.00 131.50L323.20 202.80" stroke="#333" stroke-width="1.5" fill="none" stroke-dasharray="22.6 8.45 7.0 8.45" stroke-dashoffset="32.62"/><path d="M323.20 202.80L125.60 248.00" stroke="#333" stroke-width="1.5" fill="none" stroke-dasharray="22.6 8.45 7.0 8.45" stroke-dashoffset="30.61"/><path d="M125.60 248.00L132.40 326.00" stroke="#333" stroke-width="1.5" fill="none" stroke-dasharray="22.6 8.45 7.0 8.45" stroke-dashoffset="30.41"/><path d="M259.2 112.2L306 112.0" stroke="#222" stroke-width="1.1"/><path d="M469.7 142.2L498.3 180.2" stroke="#222" stroke-width="1.1"/><path d="M557.9 277.1L602.7 335.1" stroke="#222" stroke-width="1.1"/><path d="M508.5 315.4L536.7 353.7" stroke="#222" stroke-width="1.1"/><path d="M268.4 335.7L313.5 409.0" stroke="#222" stroke-width="1.1"/><path d="M95.9 422.6L124.9 461.3" stroke="#222" stroke-width="1.1"/><path d="M745.0 269.1L771.9 307.1" stroke="#222" stroke-width="1.1"/><path d="M893.3 186.5L938.5 259.5" stroke="#222" stroke-width="1.1"/><text x="231.5" y="120.0" font-family="&quot;Liberation Sans&quot;, sans-serif" font-size="25" fill="#000">6</text><text x="457.3" y="132.0" font-family="&quot;Liberation Sans&quot;, sans-serif" font-size="25" fill="#000">3</text><text x="130.3" y="482.0" font-family="&quot;Liberation Sans&quot;, sans-serif" font-size="25" fill="#000">1</text><text x="317.5" y="430.8" font-family="&quot;Liberation Sans&quot;, sans-serif" font-size="25" fill="#000">2</text><text x="540.5" y="374.8" font-family="&quot;Liberation Sans&quot;, sans-serif" font-size="25" fill="#000">3</text><text x="605.8" y="356.8" font-family="&quot;Liberation Sans&quot;, sans-serif" font-size="25" fill="#000">3</text><text x="774.5" y="327.5" font-family="&quot;Liberation Sans&quot;, sans-serif" font-size="25" fill="#000">4</text><text x="942.3" y="280.9" font-family="&quot;Liberation Sans&quot;, sans-serif" font-size="25" fill="#000">5</text></svg></body></html>
